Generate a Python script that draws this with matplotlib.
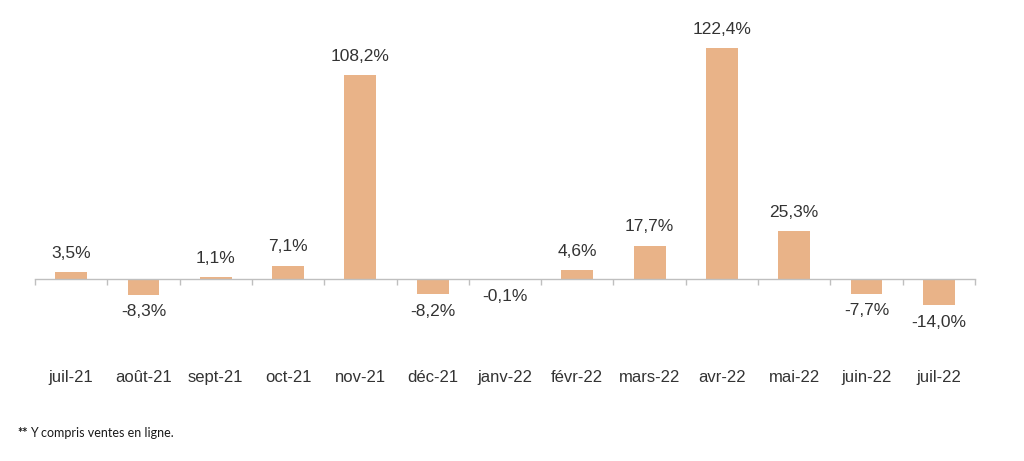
import matplotlib
matplotlib.use("Agg")
import matplotlib.pyplot as plt
from matplotlib.transforms import blended_transform_factory

months = ["juil-21", "août-21", "sept-21", "oct-21", "nov-21", "déc-21", "janv-22",
          "févr-22", "mars-22", "avr-22", "mai-22", "juin-22", "juil-22"]
values = [3.5, -8.3, 1.1, 7.1, 108.2, -8.2, -0.1, 4.6, 17.7, 122.4, 25.3, -7.7, -14.0]
footnote_mark = "**"
footnote = "Y compris ventes en ligne."

W, H = 1024, 461
fig = plt.figure(figsize=(W / 100, H / 100), dpi=100)
# axes spans pixel x 35..975, y 20..340 (from top)
ax = fig.add_axes([35 / W, 1 - 340 / H, 940 / W, 320 / H])

scale = 1.887  # px per %
ax.set_ylim(-(340 - 279) / scale, (279 - 20) / scale)
ax.set_xlim(-0.5, len(months) - 0.5)

x = list(range(len(months)))
ax.bar(x, values, width=0.44, color="#E9B388", zorder=2)

txt_color = "#333333"
font = "Liberation Sans"
for xi, v in zip(x, values):
    lab = f"{v:.1f}%".replace(".", ",")
    if v >= 0:
        ax.annotate(lab, (xi, v), xytext=(0, 8), textcoords="offset points",
                    ha="center", va="bottom", fontsize=12.5, color=txt_color, family=font)
    else:
        ax.annotate(lab, (xi, v), xytext=(0, -7), textcoords="offset points",
                    ha="center", va="top", fontsize=12.5, color=txt_color, family=font)

for s in ["top", "right", "left"]:
    ax.spines[s].set_visible(False)
ax.spines["bottom"].set_position(("data", 0))
ax.spines["bottom"].set_color("#BFBFBF")
ax.spines["bottom"].set_linewidth(1.0)
ax.set_yticks([])
ax.set_xticks([i - 0.5 for i in range(len(months) + 1)])
ax.set_xticklabels([])
ax.tick_params(axis="x", direction="out", length=4, width=1, color="#BFBFBF")

trans = blended_transform_factory(ax.transData, fig.transFigure)
for xi, m in zip(x, months):
    ax.text(xi, 1 - 377 / H, m, transform=trans, ha="center", va="center",
            fontsize=12, color=txt_color, family=font, clip_on=False)

t1 = fig.text(17 / W, 1 - 433 / H, footnote_mark, ha="left", va="center", fontsize=9,
              color="#1a1a1a", family="Lato", weight="bold")
fig.canvas.draw()
bb = t1.get_window_extent()
fig.text((bb.x1 + 3) / W, 1 - 433 / H, footnote, ha="left", va="center", fontsize=9,
         color="#1a1a1a", family="Lato")

fig.savefig("out.png", dpi=100, facecolor="white")
